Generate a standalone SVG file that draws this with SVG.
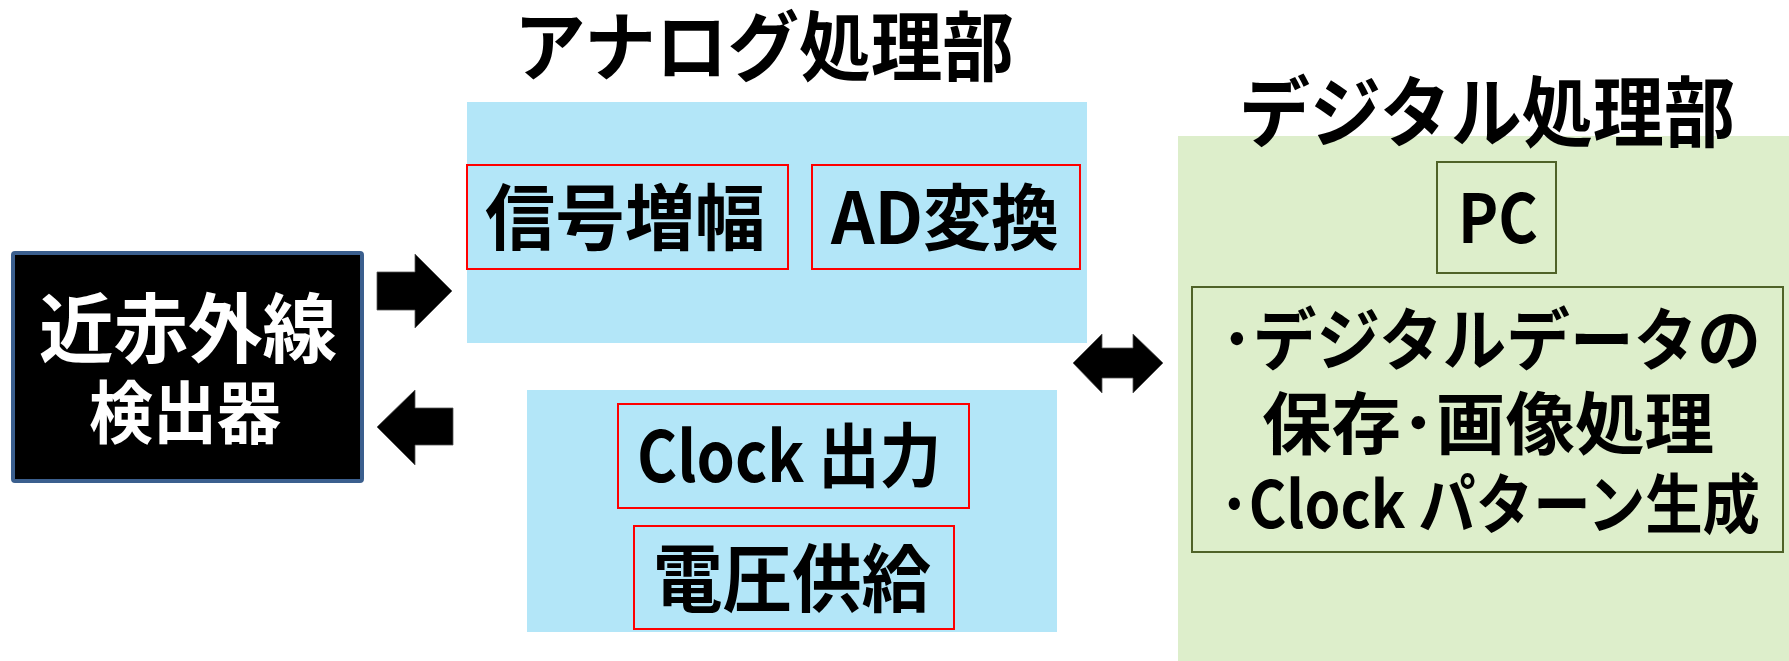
<svg xmlns="http://www.w3.org/2000/svg" width="1789" height="661" viewBox="0 0 1789 661">
<style>
text{font-family:"Noto Sans CJK JP","Noto Sans",sans-serif;font-weight:bold;text-anchor:middle;fill:#000}
.w{fill:#fff}
.panelB{fill:#B3E6F8}
.panelG{fill:#DDEECB}
.red{fill:none;stroke:#FF0000;stroke-width:2}
.olive{fill:none;stroke:#4F6228;stroke-width:2}
.arrow{fill:#000;stroke:#555;stroke-width:0.8}
</style>
<rect width="1789" height="661" fill="#fff"/>
<g id="analog-panel">
<rect class="panelB" x="467" y="102" width="620" height="241"/>
<rect class="panelB" x="527" y="390" width="530" height="242"/>
<text x="764" y="75" font-size="76" textLength="500" lengthAdjust="spacingAndGlyphs">アナログ処理部</text>
</g>
<g id="digital-panel">
<rect class="panelG" x="1178" y="136" width="611" height="525"/>
<text x="1487" y="141" font-size="77" textLength="496" lengthAdjust="spacingAndGlyphs">デジタル処理部</text>
</g>
<g id="detector">
<rect x="13" y="253" width="349" height="228" fill="#000" stroke="#3B5F8E" stroke-width="4" rx="2"/>
<text class="w" x="188" y="357" font-size="76" textLength="298" lengthAdjust="spacingAndGlyphs">近赤外線</text>
<text class="w" x="185" y="438" font-size="68" textLength="192" lengthAdjust="spacingAndGlyphs">検出器</text>
</g>
<g id="amp">
<rect class="red" x="467" y="165" width="321" height="104"/>
<text x="625" y="244" font-size="72" textLength="280" lengthAdjust="spacingAndGlyphs">信号増幅</text>
</g>
<g id="adc">
<rect class="red" x="812" y="165" width="268" height="104"/>
<text x="945" y="244" font-size="72" textLength="228" lengthAdjust="spacingAndGlyphs">AD変換</text>
</g>
<g id="clock">
<rect class="red" x="618" y="404" width="351" height="104"/>
<text x="789" y="482" font-size="70" textLength="304" lengthAdjust="spacingAndGlyphs">Clock 出力</text>
</g>
<g id="power">
<rect class="red" x="634" y="526" width="320" height="103"/>
<text x="792" y="606" font-size="74" textLength="278" lengthAdjust="spacingAndGlyphs">電圧供給</text>
</g>
<g id="pc">
<rect class="olive" x="1437" y="162" width="119" height="111"/>
<text x="1498" y="243" font-size="68" textLength="80" lengthAdjust="spacingAndGlyphs">PC</text>
</g>
<g id="functions">
<rect class="olive" x="1192" y="287" width="591" height="265"/>
<text x="1491" y="365" font-size="68" textLength="540" lengthAdjust="spacingAndGlyphs">･デジタルデータの</text>
<text x="1488" y="449" font-size="68" textLength="452" lengthAdjust="spacingAndGlyphs">保存･画像処理</text>
<text x="1490" y="528" font-size="65" textLength="540" lengthAdjust="spacingAndGlyphs">･Clock パターン生成</text>
</g>
<g id="connectors">
<polygon class="arrow" points="377,272 415,272 415,254 452,291 415,328 415,310 377,310"/>
<polygon class="arrow" points="377,427 415,390 415,408 453,408 453,445 415,445 415,465"/>
<polygon class="arrow" points="1073,363 1102,334 1102,348 1133,348 1133,334 1163,363 1133,393 1133,378 1102,378 1102,393"/>
</g>
</svg>
